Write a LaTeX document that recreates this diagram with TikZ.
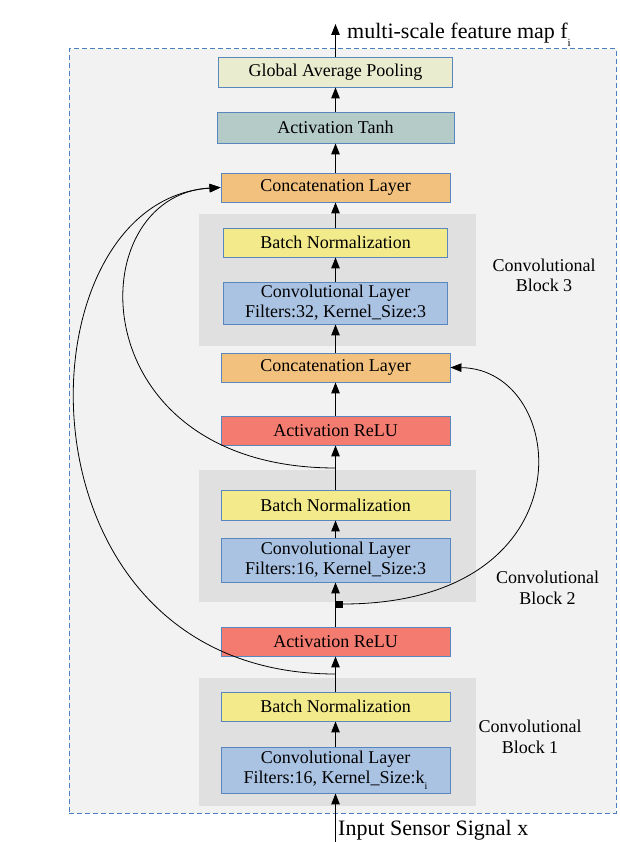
\documentclass[tikz,border=0pt]{standalone}
\usepackage{fontspec}
\setmainfont{Liberation Serif}
\usetikzlibrary{arrows.meta}
\definecolor{outerfill}{HTML}{F2F2F2}
\definecolor{dashblue}{HTML}{4A7EBF}
\definecolor{blockgray}{HTML}{E0E0E0}
\definecolor{boxedge}{HTML}{5A86BE}
\definecolor{gapfill}{HTML}{EAECCF}
\definecolor{tanhfill}{HTML}{B4CBC7}
\definecolor{catfill}{HTML}{F2C17E}
\definecolor{bnfill}{HTML}{F3EA8C}
\definecolor{convfill}{HTML}{AAC3E3}
\definecolor{relufill}{HTML}{F47B70}
\begin{document}
\begin{tikzpicture}[x=1pt,y=-1pt,
  layer/.style={draw=boxedge, line width=0.9pt, inner sep=0pt, align=center,
    font=\fontsize{18}{20}\selectfont},
  blockbg/.style={fill=blockgray, draw=none, inner sep=0pt},
  flow/.style={-{Triangle[length=11pt,width=8.5pt]}, line width=1pt, black},
  skipline/.style={-{Triangle[length=11pt,width=8.5pt]}, line width=0.8pt, black},
  blocklabel/.style={align=center, inner sep=0pt, font=\fontsize{18}{20.5}\selectfont},
  biglabel/.style={font=\fontsize{22}{26}\selectfont, anchor=base west, inner sep=0pt}]
\useasboundingbox (0,0) rectangle (619,842);
% outer frame
\node[draw=dashblue, fill=outerfill, dash pattern=on 5pt off 3pt, line width=1pt,
  inner sep=0pt, minimum width=547pt, minimum height=764pt] (frame) at (342.5,431) {};
% block backgrounds
\node[blockbg, minimum width=277pt, minimum height=132pt] (blk3) at (337.5,280) {};
\node[blockbg, minimum width=277pt, minimum height=132pt] (blk2) at (337.5,536) {};
\node[blockbg, minimum width=277pt, minimum height=128pt] (blk1) at (337.5,742) {};
% layers
\node[layer, fill=gapfill, minimum width=234pt, minimum height=30pt] (gap) at (335.5,72) {Global Average Pooling};
\node[layer, fill=tanhfill, minimum width=237pt, minimum height=31pt] (tanh) at (335.5,127.5) {Activation Tanh};
\node[layer, fill=catfill, minimum width=229pt, minimum height=29pt] (cat3) at (335.5,187.5) {Concatenation Layer};
\node[layer, fill=bnfill, minimum width=224.5pt, minimum height=29pt] (bn3) at (335.5,242.5) {Batch Normalization};
\node[layer, fill=convfill, minimum width=224pt, minimum height=42pt] (conv3) at (335.5,303) {Convolutional Layer\\Filters:32, Kernel\_Size:3};
\node[layer, fill=catfill, minimum width=229pt, minimum height=29pt] (cat2) at (335.5,367.5) {Concatenation Layer};
\node[layer, fill=relufill, minimum width=229pt, minimum height=29pt] (relu2) at (335.5,430.5) {Activation ReLU};
\node[layer, fill=bnfill, minimum width=229pt, minimum height=30pt] (bn2) at (335.5,505) {Batch Normalization};
\node[layer, fill=convfill, minimum width=229pt, minimum height=44pt] (conv2) at (335.5,560) {Convolutional Layer\\Filters:16, Kernel\_Size:3};
\node[layer, fill=relufill, minimum width=229pt, minimum height=29pt] (relu1) at (335.5,641.5) {Activation ReLU};
\node[layer, fill=bnfill, minimum width=229pt, minimum height=29pt] (bn1) at (335.5,706.5) {Batch Normalization};
\node[layer, fill=convfill, minimum width=229pt, minimum height=46pt] (conv1) at (335.5,770) {Convolutional Layer\\Filters:16, Kernel\_Size:k\raisebox{-6pt}{\fontsize{10}{10}\selectfont i}};
% block labels
\node[blocklabel] (lbl3) at (544,275.5) {Convolutional\\Block 3};
\node[blocklabel] (lbl2) at (547.5,588) {Convolutional\\Block 2};
\node[blocklabel] (lbl1) at (530,737) {Convolutional\\Block 1};
% input / output
\coordinate (inpt) at (335.5,842);
\coordinate (outpt) at (335.5,24);
\node[biglabel] (outlbl) at (347,39) {multi-scale feature map f\raisebox{-8pt}{\fontsize{11}{11}\selectfont i}};
\node[biglabel] (inlbl) at (338,835) {Input Sensor Signal x};
% main flow
\draw[flow] (inpt) -- (conv1.south);
\draw[flow] (conv1.north) -- (bn1.south);
\draw[flow] (bn1.north) -- (relu1.south);
\draw[flow] (relu1.north) -- (conv2.south);
\draw[flow] (conv2.north) -- (bn2.south);
\draw[flow] (bn2.north) -- (relu2.south);
\draw[flow] (relu2.north) -- (cat2.south);
\draw[flow] (cat2.north) -- (conv3.south);
\draw[flow] (conv3.north) -- (bn3.south);
\draw[flow] (bn3.north) -- (cat3.south);
\draw[flow] (cat3.north) -- (tanh.south);
\draw[flow] (tanh.north) -- (gap.south);
\draw[flow] (gap.north) -- (outpt);
% skip connections
\coordinate (j1) at (335.5,674);
\coordinate (j2) at (335.5,468);
\node[fill=black, inner sep=0pt, minimum size=7pt] (sq) at (339,604) {};
\draw[skipline] (j1) .. controls (5,674) and (15,200) .. (cat3.west);
\draw[skipline] (j2) .. controls (78,468) and (78,195) .. (cat3.west);
\draw[skipline] (sq.east) .. controls (592,604) and (570,369) .. (cat2.east);
\end{tikzpicture}
\end{document}
